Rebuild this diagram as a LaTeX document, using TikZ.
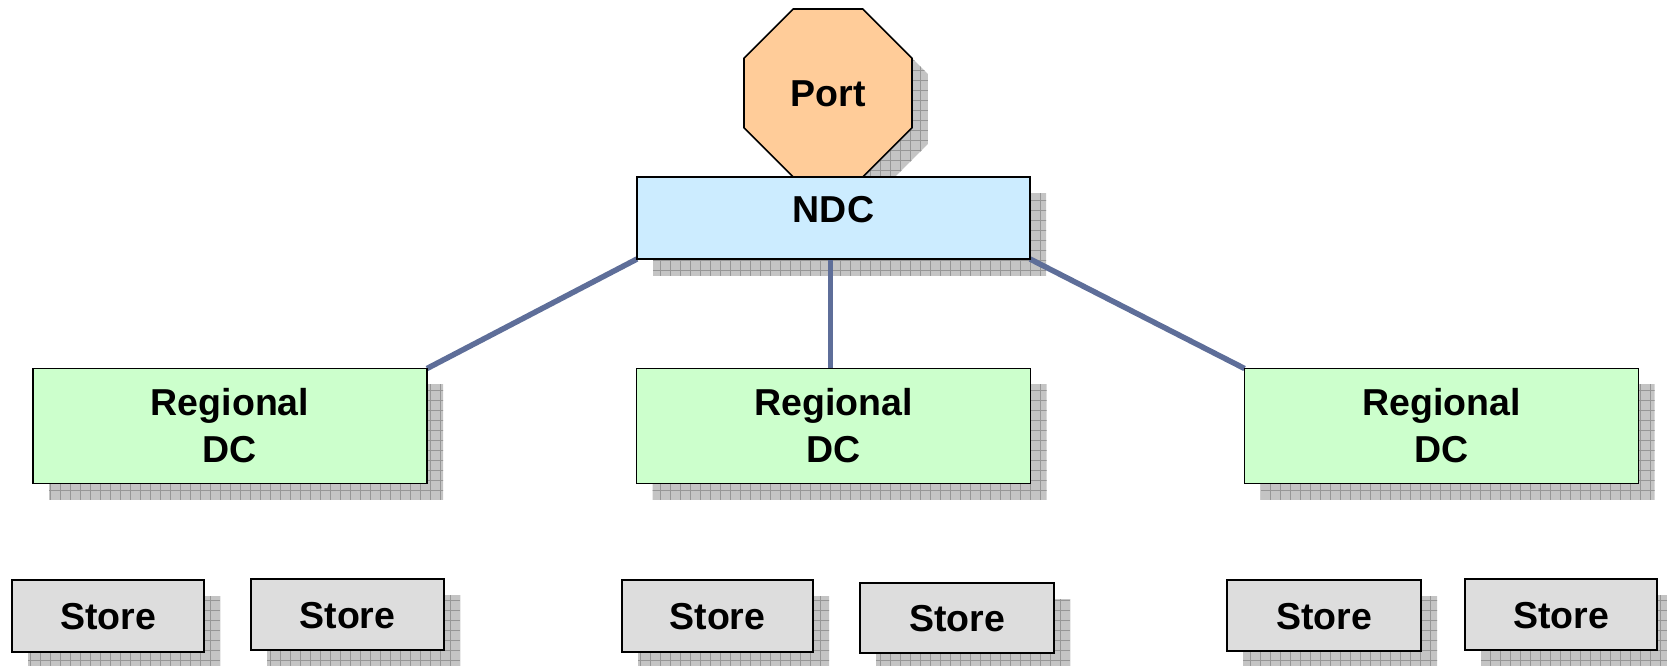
\documentclass[tikz,border=0pt]{standalone}
\usepackage{fontspec}
\setmainfont{Liberation Sans}
\usetikzlibrary{shapes.geometric}
\pgfdeclarelayer{shadowlayer}
\pgfdeclarelayer{linelayer}
\pgfsetlayers{shadowlayer,linelayer,main}

\definecolor{portfill}{HTML}{FFCC99}
\definecolor{ndcfill}{HTML}{CCECFF}
\definecolor{rdcfill}{HTML}{CCFFCC}
\definecolor{storefill}{HTML}{DDDDDD}
\definecolor{linkcol}{HTML}{5E6E99}
\definecolor{shadefill}{HTML}{C4C4C4}
\definecolor{shadegrid}{HTML}{969696}

\tikzset{
  box/.style={draw=black, line width=1.6pt, inner sep=0pt, outer sep=0pt,
    font=\bfseries\fontsize{37.5}{47}\selectfont, align=center},
  portbox/.style={box, regular polygon, regular polygon sides=8,
    minimum size=181.8pt, fill=portfill, text height=27pt, text depth=0pt},
  ndcbox/.style={box, rectangle, fill=ndcfill, minimum width=393pt,
    minimum height=82pt, text height=27pt, text depth=19pt},
  rdcbox/.style={box, rectangle, fill=rdcfill, minimum width=394pt,
    minimum height=115pt},
  storebox/.style={box, rectangle, fill=storefill, minimum width=193pt,
    minimum height=71pt, text height=27pt, text depth=0pt},
  link/.style={draw=linkcol, line width=5.5pt},
  shadowgrid/.style={draw=shadegrid, line width=0.8pt}
}

\newcommand\shadowfill{%
  \fill[shadefill] (-10pt,-700pt) rectangle (1700pt,10pt);
  \draw[shadowgrid, step=10pt] (-10pt,-700pt) grid (1700pt,10pt);}
\newcommand\rectshadow[1]{%
  \begin{scope}
    \clip ([shift={(16,16)}]#1.south west) rectangle ([shift={(16,16)}]#1.north east);
    \shadowfill
  \end{scope}}

\begin{document}
\begin{tikzpicture}[x=1pt, y=-1pt]
  \useasboundingbox (0,0) rectangle (1667,665);

  % nodes
  \node[portbox] (port) at (828,93) {Port};
  \node[ndcbox] (ndc) at (833.5,218) {NDC};

  \node[rdcbox] (rl) at (230,426) {Regional\\DC};
  \node[rdcbox] (rm) at (833.5,426) {Regional\\DC};
  \node[rdcbox] (rr) at (1441.5,426) {Regional\\DC};

  \node[storebox, minimum width=192pt, minimum height=72pt] (s1) at (108,616) {Store};
  \node[storebox] (s2) at (347.5,614.5) {Store};
  \node[storebox, minimum width=191pt, minimum height=72pt] (s3) at (717.5,616) {Store};
  \node[storebox, minimum width=194pt, minimum height=70pt] (s4) at (957,618) {Store};
  \node[storebox, minimum width=194pt] (s5) at (1324,615.5) {Store};
  \node[storebox, minimum width=192pt] (s6) at (1561,614.5) {Store};

  % shadows
  \begin{pgfonlayer}{shadowlayer}
    \begin{scope}
      \clip ([shift={(16,16)}]port.corner 1) -- ([shift={(16,16)}]port.corner 2)
        -- ([shift={(16,16)}]port.corner 3) -- ([shift={(16,16)}]port.corner 4)
        -- ([shift={(16,16)}]port.corner 5) -- ([shift={(16,16)}]port.corner 6)
        -- ([shift={(16,16)}]port.corner 7) -- ([shift={(16,16)}]port.corner 8) -- cycle;
      \shadowfill
    \end{scope}
    \rectshadow{ndc}
    \rectshadow{rl}
    \rectshadow{rm}
    \rectshadow{rr}
    \rectshadow{s1}
    \rectshadow{s2}
    \rectshadow{s3}
    \rectshadow{s4}
    \rectshadow{s5}
    \rectshadow{s6}
  \end{pgfonlayer}

  % connectors
  \begin{pgfonlayer}{linelayer}
    \draw[link] (ndc.south west) -- (rl.north east);
    \draw[link] ([xshift=-3pt]ndc.south) -- ([xshift=-3pt]rm.north);
    \draw[link] (ndc.south east) -- (rr.north west);
  \end{pgfonlayer}
\end{tikzpicture}
\end{document}
